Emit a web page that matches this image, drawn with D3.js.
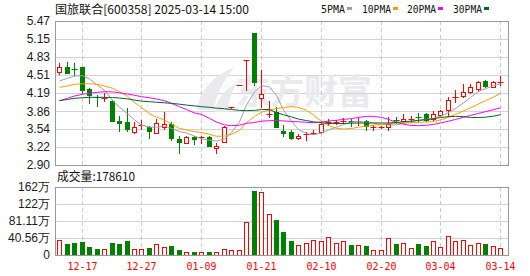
<!DOCTYPE html>
<html>
<head>
<meta charset="utf-8">
<script src="https://cdn.jsdelivr.net/npm/d3@7"></script>
<style>
body { margin: 0; background: #fff; }
svg { display: block; font-family: "Liberation Sans", Arial, sans-serif; }
</style>
</head>
<body>
<svg id="chart" width="530" height="276"></svg>
<script>
var dates = ["12-12","12-13","12-16","12-17","12-18","12-19","12-20","12-23","12-24","12-25",
    "12-26","12-27","12-30","12-31","01-02","01-03","01-06","01-07","01-08","01-09",
    "01-10","01-13","01-14","01-15","01-16","01-17","01-20","01-21","01-22","01-23",
    "01-24","01-27","02-05","02-06","02-07","02-10","02-11","02-12","02-13","02-14",
    "02-17","02-18","02-19","02-20","02-21","02-24","02-25","02-26","02-27","02-28",
    "03-03","03-04","03-05","03-06","03-07","03-10","03-11","03-12","03-13","03-14"];

var opens = [4.56,4.644,4.61,4.644,4.256,4.11,4.085,4.042,3.685,3.667,
    3.494,3.59,3.584,3.477,3.573,3.64,3.359,3.298,3.405,3.376,
    3.40,3.198,3.316,3.94,4.33,4.77,5.25,4.09,3.80,3.851,
    3.51,3.49,3.376,3.44,3.465,3.483,3.65,3.668,3.685,3.678,
    3.68,3.685,3.568,3.56,3.573,3.708,3.685,3.712,3.755,3.81,
    3.726,3.792,3.882,4.10,4.131,4.198,4.251,4.40,4.298,4.37];
var highs = [4.715,4.733,4.726,4.65,4.27,4.149,4.18,4.06,3.774,3.912,
    3.673,3.703,3.59,3.72,3.846,3.67,3.41,3.417,3.423,3.417,
    3.417,3.30,3.59,3.94,4.33,4.77,5.25,4.59,4.047,3.94,
    3.61,3.53,3.45,3.495,3.53,3.67,3.72,3.70,3.745,3.72,
    3.745,3.70,3.614,3.59,3.76,3.75,3.81,3.775,3.83,3.83,
    3.87,3.88,4.11,4.239,4.345,4.345,4.405,4.417,4.40,4.49];
var lows = [4.519,4.537,4.506,4.19,4.012,3.958,4.047,3.69,3.512,3.50,
    3.476,3.543,3.376,3.47,3.543,3.35,3.123,3.287,3.27,3.287,
    3.245,3.119,3.31,3.92,4.33,4.23,4.33,3.94,3.75,3.57,
    3.42,3.36,3.36,3.35,3.45,3.48,3.62,3.626,3.645,3.60,
    3.615,3.525,3.525,3.555,3.525,3.655,3.66,3.67,3.67,3.685,
    3.70,3.775,3.775,4.03,4.108,4.18,4.226,4.298,4.287,4.328];
var closes = [4.654,4.537,4.60,4.239,4.144,4.105,4.09,3.691,3.644,3.537,
    3.573,3.61,3.512,3.644,3.626,3.38,3.316,3.394,3.359,3.394,
    3.245,3.239,3.584,3.94,4.33,4.77,4.387,4.167,3.81,3.573,
    3.47,3.39,3.42,3.448,3.47,3.626,3.66,3.673,3.69,3.673,
    3.685,3.596,3.573,3.584,3.626,3.703,3.715,3.715,3.75,3.703,
    3.805,3.864,4.06,4.108,4.208,4.297,4.387,4.31,4.376,4.38];
// volume in 万
var volumes = [35.8,26.2,27.8,31,19.9,15,14.3,28.6,26.2,33.4,
    14.3,14.3,17.5,25.5,19.1,21.5,11.9,6.4,7.2,6.4,
    7.2,6.4,13.5,11.1,11.1,78,152.7,151,97.8,83.5,
    54.9,33.4,23.1,27.8,35,32.6,42.2,27.8,32.6,23.1,
    23.1,21.5,11.1,11.1,39.8,25.5,27.8,15.9,25.5,20.7,
    33.4,19.9,45.3,33.4,35,23.1,27.8,26.2,20.7,17.861];

var ma5Head = [4.40,4.447,4.488,4.494];
var ma10Head = [4.287,4.31,4.34,4.35,4.35,4.34,4.31,4.27,4.208];
var ma20Head = [4.047,4.09,4.131,4.162,4.18,4.198,4.208,4.205,4.19,4.167,
    4.144,4.12,4.10,4.078,4.047,4.0,3.94,3.89,3.83];
var ma30Head = [4.05,4.07,4.09,4.10,4.108,4.108,4.108,4.105,4.095,4.08,
    4.06,4.04,4.03,4.02,4.01,4.0,3.985,3.97,3.955,3.94,
    3.93,3.915,3.905,3.89,3.875,3.87,3.875,3.89,3.89];

var priceTicks = [5.47,5.15,4.83,4.51,4.19,3.86,3.54,3.22,2.90];
var volTicks = [162.22,121.67,81.11,40.56,0];
var volTickLabels = ["162万","122万","81.11万","40.56万","0"];
var labelDates = ["12-17","12-27","01-09","01-21","02-10","02-20","03-04","03-14"];

var maNames = ["5PMA","10PMA","20PMA","30PMA"];
var maColors = ["#a0a0a0","#f5a000","#ff00ff","#00662e"];

var svg = d3.select("#chart");
var left = 55, right = 509, pTop = 21, pBottom = 165, vTop = 187, vBottom = 255;
var red = "#ff0000", green = "#008000";

var x = d3.scaleBand().domain(d3.range(dates.length)).range([56, 504.5]);
function cx(i) { return Math.floor(x(i) + x.bandwidth() / 2) + 0.5; }
var y = d3.scaleLinear().domain([2.90, 5.47]).range([pBottom, pTop]);
var yv = d3.scaleLinear().domain([0, 162.22]).range([vBottom, vTop]);
function crisp(v) { return Math.round(v) + 0.5; }

function upDay(i) {
    if (closes[i] != opens[i]) return closes[i] > opens[i];
    return i == 0 || closes[i] >= closes[i - 1];
}

function movingAvg(n, head) {
    return closes.map(function(c, i) {
        if (i < n - 1) return head[i];
        return d3.mean(closes.slice(i - n + 1, i + 1));
    });
}
var maData = [movingAvg(5, ma5Head), movingAvg(10, ma10Head), movingAvg(20, ma20Head), movingAvg(30, ma30Head)];

// horizontal grid
var grid = svg.append("g").attr("stroke", "#d4d4d4").attr("stroke-width", 1);
grid.selectAll(".hp").data(priceTicks.slice(1, -1)).enter().append("line")
    .attr("x1", left).attr("x2", right)
    .attr("y1", function(d) { return crisp(y(d)); })
    .attr("y2", function(d) { return crisp(y(d)); });
grid.selectAll(".hv").data(volTicks.slice(1, -1)).enter().append("line")
    .attr("x1", left).attr("x2", right)
    .attr("y1", function(d) { return crisp(yv(d)); })
    .attr("y2", function(d) { return crisp(yv(d)); });

// vertical dashed grid
var vgrid = svg.append("g").attr("stroke", "#cccccc").attr("stroke-dasharray", "4,3");
labelDates.forEach(function(d) {
    var xi = cx(dates.indexOf(d));
    vgrid.append("line").attr("x1", xi).attr("x2", xi).attr("y1", pTop).attr("y2", pBottom);
    vgrid.append("line").attr("x1", xi).attr("x2", xi).attr("y1", vTop).attr("y2", vBottom);
});

// watermark
var wm = svg.append("g").attr("fill", "#e9e9ee");
wm.append("path").attr("d", "M197,110 C199,92 212,76 234,68 C222,82 216,95 214,110 Z");
wm.append("path").attr("d", "M214,112 C218,98 226,88 236,84 C230,94 228,104 229,112 Z");
wm.append("text").attr("x", 236).attr("y", 104)
    .attr("font-family", "Noto Sans CJK SC").attr("font-size", 34).attr("font-weight", "bold")
    .attr("textLength", 136).attr("lengthAdjust", "spacingAndGlyphs")
    .text("东方财富");

// candles
var candles = svg.append("g").selectAll("g").data(d3.range(dates.length)).enter().append("g");
candles.append("line")
    .attr("x1", cx).attr("x2", cx)
    .attr("y1", function(i) { return Math.round(y(highs[i])); })
    .attr("y2", function(i) { return Math.round(y(lows[i])) + 1; })
    .attr("stroke", function(i) { return upDay(i) ? red : green; });
candles.each(function(i) {
    var g = d3.select(this);
    var c = upDay(i) ? red : green;
    var y0 = Math.round(y(Math.max(opens[i], closes[i])));
    var y1 = Math.round(y(Math.min(opens[i], closes[i])));
    if (y1 - y0 < 2) {
        g.append("line").attr("x1", cx(i) - 3).attr("x2", cx(i) + 3)
            .attr("y1", y0 + 0.5).attr("y2", y0 + 0.5).attr("stroke", c);
    } else if (upDay(i)) {
        g.append("rect").attr("x", cx(i) - 2).attr("y", y0 + 0.5)
            .attr("width", 4).attr("height", y1 - y0)
            .attr("fill", "#fff").attr("stroke", red);
    } else {
        g.append("rect").attr("x", cx(i) - 2.5).attr("y", y0)
            .attr("width", 5).attr("height", y1 - y0 + 1)
            .attr("fill", green);
    }
});

// moving averages
var line = d3.line().x(function(d, i) { return cx(i); }).y(function(d) { return y(d); });
svg.append("g").selectAll("path").data(maData).enter().append("path")
    .attr("d", line)
    .attr("fill", "none")
    .attr("stroke-width", 1)
    .attr("stroke", function(d, k) { return maColors[k]; });

// volume bars
svg.append("g").selectAll("rect").data(d3.range(dates.length)).enter().append("rect")
    .attr("x", function(i) { return upDay(i) ? cx(i) - 2 : cx(i) - 2.5; })
    .attr("y", function(i) { return Math.round(yv(volumes[i])) + (upDay(i) ? 0.5 : 0); })
    .attr("width", function(i) { return upDay(i) ? 4 : 5; })
    .attr("height", function(i) { return vBottom - Math.round(yv(volumes[i])) + (upDay(i) ? 0 : 1); })
    .attr("fill", function(i) { return upDay(i) ? "#fff" : green; })
    .attr("stroke", function(i) { return upDay(i) ? red : "none"; });

// frames
svg.append("rect").attr("x", left + 0.5).attr("y", pTop + 0.5).attr("width", right - left - 1).attr("height", pBottom - pTop)
    .attr("fill", "none").attr("stroke", "#999");
svg.append("rect").attr("x", left + 0.5).attr("y", vTop + 0.5).attr("width", right - left - 1).attr("height", vBottom - vTop)
    .attr("fill", "none").attr("stroke", "#999");

// y axes
svg.append("g").attr("transform", "translate(" + (left - 2) + ",0)")
    .call(d3.axisLeft(y).tickValues(priceTicks).tickFormat(d3.format(".2f")).tickSize(0))
    .call(function(g) { g.select(".domain").remove(); })
    .selectAll("text").attr("font-size", 12).attr("font-family", "Liberation Sans, Arial").attr("fill", "#1a1a1a");
svg.append("g").attr("transform", "translate(" + (left - 2) + ",0)")
    .call(d3.axisLeft(yv).tickValues(volTicks).tickFormat(function(d, k) { return volTickLabels[k]; }).tickSize(0))
    .call(function(g) { g.select(".domain").remove(); })
    .selectAll("text").attr("font-size", 12).attr("font-family", "Liberation Sans, Arial").attr("fill", "#1a1a1a");

// x labels
svg.append("g").selectAll("text").data(labelDates).enter().append("text")
    .attr("x", function(d) { return cx(dates.indexOf(d)); })
    .attr("y", 270)
    .attr("text-anchor", "middle")
    .attr("font-family", "DejaVu Sans Mono, monospace").attr("font-size", 11)
    .attr("textLength", 30).attr("lengthAdjust", "spacingAndGlyphs")
    .attr("fill", red)
    .text(function(d) { return d; });

// title and legend
svg.append("text").attr("x", 55).attr("y", 13.5)
    .attr("font-family", "Noto Sans CJK SC").attr("font-size", 12).attr("fill", "#111")
    .attr("textLength", 194).attr("lengthAdjust", "spacingAndGlyphs")
    .text("国旅联合[600358] 2025-03-14 15:00");

var legendX = [321, 362, 407, 453];
var legendW = [24, 29, 29, 29];
var legend = svg.append("g").selectAll("g").data(maNames).enter().append("g");
legend.append("text")
    .attr("x", function(d, k) { return legendX[k]; }).attr("y", 13)
    .attr("font-family", "DejaVu Sans Mono, monospace").attr("font-size", 11).attr("fill", "#111")
    .attr("textLength", function(d, k) { return legendW[k]; }).attr("lengthAdjust", "spacingAndGlyphs")
    .text(function(d) { return d; });
legend.append("rect")
    .attr("x", function(d, k) { return legendX[k] + legendW[k] + 2; }).attr("y", 7)
    .attr("width", 5).attr("height", 3)
    .attr("fill", function(d, k) { return maColors[k]; });

svg.append("text").attr("x", 57).attr("y", 181)
    .attr("font-family", "Noto Sans CJK SC").attr("font-size", 12).attr("fill", "#111")
    .attr("textLength", 78).attr("lengthAdjust", "spacingAndGlyphs")
    .text("成交量:" + Math.round(volumes[volumes.length - 1] * 10000));
</script>
</body>
</html>
